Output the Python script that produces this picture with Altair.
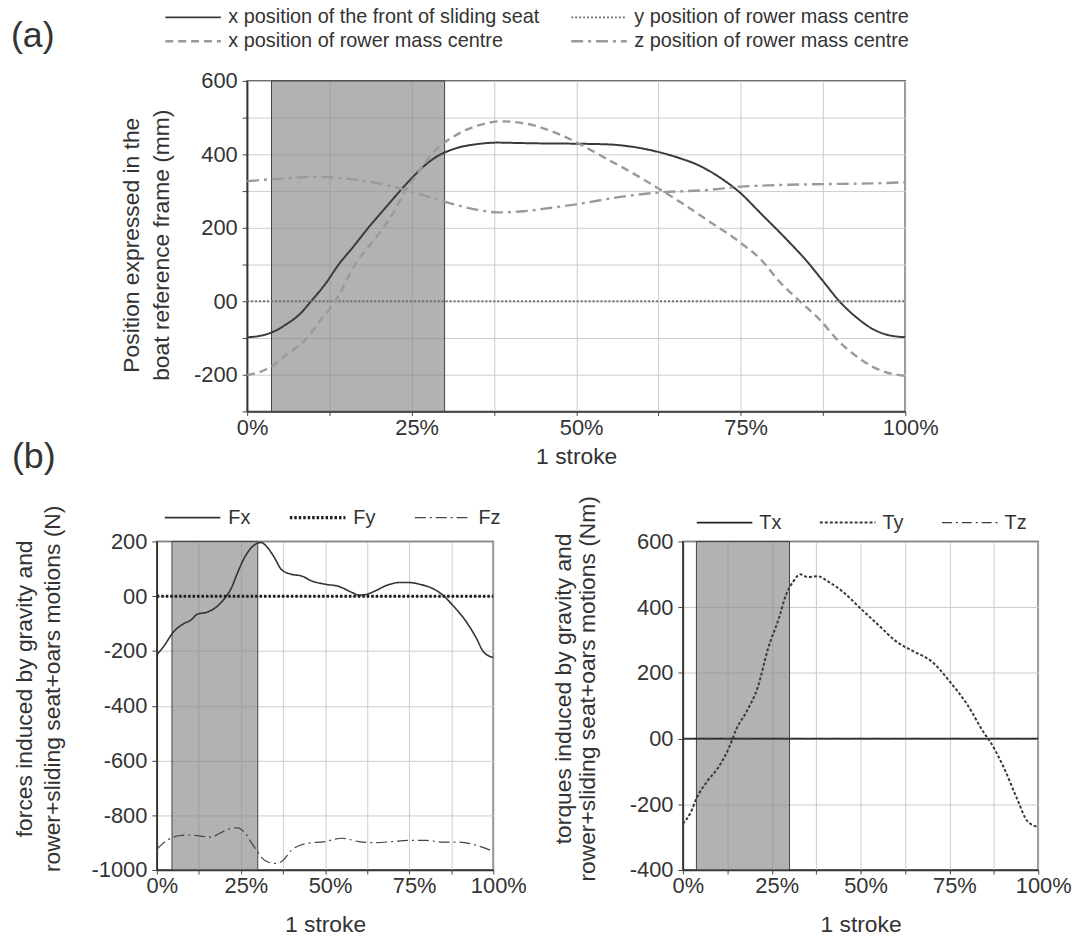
import altair as alt
import pandas as pd

FONT = "Liberation Sans"
INK = "#333333"

# ---------------- panel (a): positions in the boat frame (mm) ----------------
a_names = ["x position of the front of sliding seat", "y position of rower mass centre",
           "x position of rower mass centre", "z position of rower mass centre"]
a_colors = ["#3a3a3a", "#707070", "#9a9a9a", "#9a9a9a"]
a_dashes = [[1, 0], [2, 2], [8, 5], [12, 5, 3, 5]]
a_widths = [2, 1.8, 2.4, 2.4]

seat_pct = [0, 2, 3.7, 6, 8, 9.7, 12, 13.9, 16.2, 18.4, 20.8, 23.2, 25, 27, 29, 30, 32, 35, 38,
            41, 44, 50, 55, 58, 62.6, 66, 68, 72, 75, 78, 81.5, 85, 87.5, 90, 93, 95, 97, 100]
seat_mm = [-98, -94, -85, -62, -35, 0, 50, 100, 150, 200, 250, 300, 335, 370, 396, 405, 418, 428, 432,
           431, 430, 429, 427, 422, 406, 388, 375, 335, 294, 240, 177, 110, 55, 0, -50, -75, -90, -98]

ypos_pct = [0, 50, 100]
ypos_mm = [0, 0, 0]

xcm_pct = [0, 2, 3.7, 6, 9.1, 11, 13.4, 16.4, 18.5, 20.7, 22.5, 24, 26, 28, 30, 32, 35, 38.5, 42,
           46, 50, 55, 58, 62.5, 66, 70, 75, 78, 81, 84, 87, 90, 93, 95, 97, 100]
xcm_mm = [-201, -192, -178, -145, -100, -55, 0, 100, 150, 200, 250, 300, 350, 400, 432, 455, 478, 490, 485,
          465, 433, 384, 355, 307, 268, 220, 159, 115, 51, 0, -50, -111, -155, -178, -193, -203]

zcm_pct = [0, 5, 10, 15, 20, 25, 30, 35, 38, 42, 46, 50, 57, 62.5, 70, 75, 80, 87.5, 95, 100]
zcm_mm = [327, 334, 339, 334, 321, 298, 271, 249, 242, 245, 254, 264, 285, 296, 303, 312, 316, 319, 321, 324]

a_shade = [3.7, 30.0]
a_y_domain = [-300, 600]
a_y_ticks = [-300, -200, -100, 0, 100, 200, 300, 400, 500, 600]

# ---------------- panel (b) left: forces (N) ----------------
f_names = ["Fx", "Fy", "Fz"]
f_colors = ["#333333", "#1e1e1e", "#444444"]
f_dashes = [[1, 0], [2.5, 2], [11, 4, 2, 4]]
f_widths = [1.6, 3.2, 1.2]

fx_pct = [0, 2, 5, 8, 10, 12, 15, 18, 20, 22, 24, 26, 28, 30, 31, 33, 35, 37, 40, 43, 46, 50,
          54, 58, 60, 62, 65, 68, 72, 75, 78, 82, 85, 88, 92, 95, 97, 100]
fx_n = [-214, -184, -130, -100, -88, -66, -58, -36, -10, 26, 86, 140, 176, 194, 196, 176, 140, 98, 80, 74, 56, 44,
        36, 14, 4, 6, 20, 38, 50, 50, 44, 28, 4, -34, -94, -154, -202, -224]

fy_pct = [0, 50, 100]
fy_n = [0, 0, 0]

fz_pct = [0, 3, 7, 10, 13, 16, 19, 22, 24, 26, 28, 30, 32, 35, 37, 40, 44, 50, 55, 60, 65,
          70, 75, 80, 85, 90, 95, 100]
fz_n = [-924, -892, -874, -872, -876, -880, -864, -848, -846, -862, -898, -934, -964, -976, -970, -928, -904,
        -896, -884, -896, -900, -896, -892, -892, -898, -898, -910, -932]

f_shade = [4.5, 30.0]
f_y_domain = [-1000, 200]
f_y_ticks = [-1000, -800, -600, -400, -200, 0, 200]

# ---------------- panel (b) right: torques (Nm) ----------------
t_names = ["Tx", "Ty", "Tz"]
t_colors = ["#222222", "#3a3a3a", "#3a3a3a"]
t_dashes = [[1, 0], [3, 2], [10, 4, 2, 4]]
t_widths = [1.6, 2.0, 1.2]

tx_pct = [0, 50, 100]
tx_nm = [0, 0, 0]

ty_pct = [0, 2, 4, 7, 10, 13, 15, 18, 21, 24, 27, 29, 31, 33, 35, 38, 41, 45, 50, 55, 60,
          65, 70, 75, 80, 85, 86, 90, 94, 97, 100]
ty_nm = [-259, -229, -178, -128, -87, -27, 28, 84, 154, 275, 366, 437, 477, 500, 492, 494, 477, 447, 396, 346,
         296, 265, 235, 175, 104, 13, -2, -81, -182, -252, -269]

tz_pct = [0, 50, 100]
tz_nm = [0, 0, 0]

t_shade = [3.8, 30.0]
t_y_domain = [-400, 600]
t_y_ticks = [-400, -200, 0, 200, 400, 600]

x_ticks = [0, 12.5, 25, 37.5, 50, 62.5, 75, 87.5, 100]


def long_frame(names, xs, ys):
    rows = []
    for n, xv, yv in zip(names, xs, ys):
        for a, b in zip(xv, yv):
            rows.append({"series": n, "pct": a, "val": b})
    return pd.DataFrame(rows)


def panel(df, names, colors, dashes, widths, shade, y_domain, y_ticks, y_expr,
          width, height, ytitle, ytx, yty, ylh, xtp, legend, title=None):
    xsc = alt.Scale(domain=[0, 100], nice=False, zero=False)
    ysc = alt.Scale(domain=y_domain, nice=False, zero=False)
    xax = alt.Axis(values=x_ticks, labelExpr="datum.value % 25 == 0 ? datum.value + '%' : ''",
                   title="1 stroke", tickSize=4, labelPadding=2, titlePadding=xtp, labelOffset=5)
    yax = alt.Axis(values=y_ticks, labelExpr=y_expr, title=ytitle, titleX=ytx, titleY=yty,
                   titleLineHeight=ylh, tickSize=5, labelPadding=5)
    shade_df = pd.DataFrame({"s0": [shade[0]], "s1": [shade[1]], "lo": [y_domain[0]], "hi": [y_domain[1]]})
    rect = alt.Chart(shade_df).mark_rect(fill="#888888", fillOpacity=0.65, stroke="#444444",
                                         strokeWidth=1).encode(
        x=alt.X("s0:Q", scale=xsc, axis=xax), x2="s1:Q",
        y=alt.Y("lo:Q", scale=ysc, axis=yax), y2="hi:Q")
    lines = alt.Chart(df).mark_line(interpolate="monotone").encode(
        x=alt.X("pct:Q", scale=xsc, axis=xax),
        y=alt.Y("val:Q", scale=ysc, axis=yax),
        color=alt.Color("series:N", scale=alt.Scale(domain=names, range=colors), legend=legend),
        strokeDash=alt.StrokeDash("series:N", scale=alt.Scale(domain=names, range=dashes), legend=legend),
        strokeWidth=alt.StrokeWidth("series:N", scale=alt.Scale(type="ordinal", domain=names, range=widths),
                                    legend=legend),
    )
    ch = alt.layer(rect, lines).properties(width=width, height=height)
    if title is not None:
        ch = ch.properties(title=title)
    return ch


def make_legend(lx, ly, cols, colpad):
    return alt.Legend(orient="none", legendX=lx, legendY=ly, direction="horizontal", columns=cols,
                      title=None, symbolType="stroke", symbolSize=3136, labelFontSize=20,
                      labelFont=FONT, labelColor=INK, clipHeight=24, columnPadding=colpad,
                      rowPadding=0, labelOffset=6, padding=0, labelLimit=0)


a_df = long_frame(a_names, [seat_pct, ypos_pct, xcm_pct, zcm_pct], [seat_mm, ypos_mm, xcm_mm, zcm_mm])
f_df = long_frame(f_names, [fx_pct, fy_pct, fz_pct], [fx_n, fy_n, fz_n])
t_df = long_frame(t_names, [tx_pct, ty_pct, tz_pct], [tx_nm, ty_nm, tz_nm])

y_expr_a = "datum.value == 0 ? '00' : (datum.value % 200 == 0 ? '' + datum.value : '')"
y_expr_b = "datum.value == 0 ? '00' : '' + datum.value"

A = panel(a_df, a_names, a_colors, a_dashes, a_widths, a_shade, a_y_domain, a_y_ticks, y_expr_a,
          663, 333, ["Position expressed in the", "boat reference frame (mm)"], -104, 165, 30, 7,
          make_legend(-84, -76, 2, 30),
          title=alt.TitleParams("(a)", anchor="start", frame="group", dx=-238, dy=50, offset=0,
                                fontSize=36, font=FONT, fontWeight="normal", color=INK))

B1 = panel(f_df, f_names, f_colors, f_dashes, f_widths, f_shade, f_y_domain, f_y_ticks, y_expr_b,
           339, 331, ["forces induced by gravity and", "rower+sliding seat+oars motions (N)"], -121, 148, 28, 17,
           make_legend(6, -36, 3, 37),
           title=alt.TitleParams("(b)", anchor="start", frame="group", dx=-146, offset=29,
                                 fontSize=36, font=FONT, fontWeight="normal", color=INK))

B2 = panel(t_df, t_names, t_colors, t_dashes, t_widths, t_shade, t_y_domain, t_y_ticks, y_expr_b,
           358, 331, ["torques induced by gravity and", "rower+sliding seat+oars motions (Nm)"], -108, 148, 24, 17,
           make_legend(13, -31, 3, 37))

# invisible narrow cell that shifts panel (a) to the right of the (b) row's first plot
spacer = alt.Chart(pd.DataFrame({"v": [0]})).mark_point(opacity=0).encode(
    x=alt.X("v:Q", axis=None), y=alt.Y("v:Q", axis=None)
).properties(width=1, height=333, view=alt.ViewBackground(stroke="transparent"))

indep = dict(x="independent", y="independent", color="independent",
             strokeDash="independent", strokeWidth="independent")
leg_indep = dict(color="independent", strokeDash="independent", strokeWidth="independent")

row_a = alt.hconcat(spacer, A, spacing=-152).resolve_scale(**indep).resolve_legend(**leg_indep)
row_b = alt.hconcat(B1, B2, spacing=25).resolve_scale(**indep).resolve_legend(**leg_indep)

chart = alt.vconcat(row_a, row_b, spacing=-31).resolve_scale(**indep).resolve_legend(**leg_indep).properties(
    padding={"left": 10, "top": 1, "right": 0, "bottom": 0}
).configure_view(stroke="#333333", strokeWidth=1.5).configure_axis(
    labelFont=FONT, titleFont=FONT, labelFontSize=22, titleFontSize=23, labelColor=INK, titleColor=INK,
    titleFontWeight="normal", gridColor="#cccccc", gridWidth=1, tickColor="#444444",
    domainColor="#333333", domainWidth=1.5, labelFlush=False, labelOverlap=False
)

chart.save("out.html", embed_options={"renderer": "svg", "actions": False})
